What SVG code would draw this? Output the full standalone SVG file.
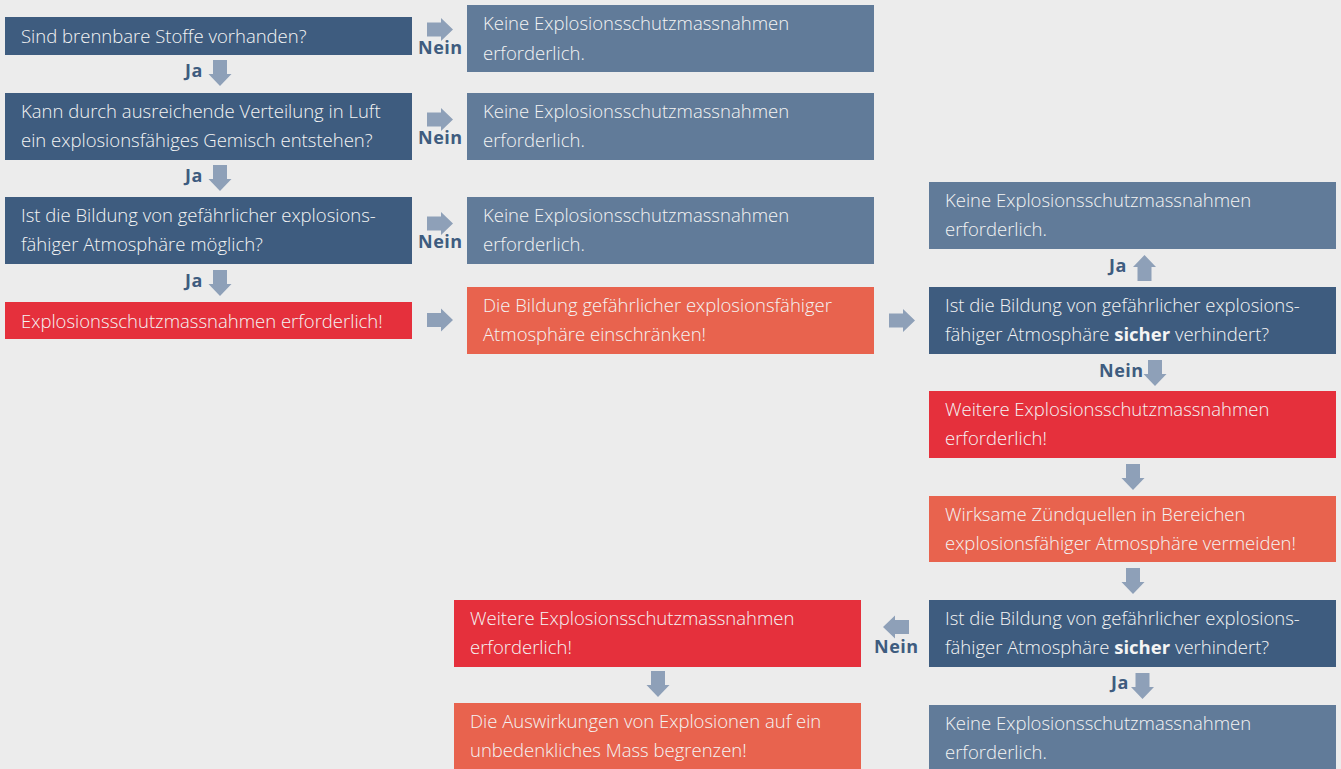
<svg xmlns="http://www.w3.org/2000/svg" width="1341" height="769" viewBox="0 0 1341 769">
<style>
.bg{fill:#ececec}
.q{fill:#3e5c7f}
.n{fill:#617b99}
.r{fill:#e5303c}
.o{fill:#e8634e}
.t{font-family:"Open Sans","Liberation Sans",sans-serif;font-size:18.5px;font-weight:300;fill:#f4f4f4}
.t tspan.b{font-weight:700}
.l{font-family:"Open Sans","Liberation Sans",sans-serif;font-size:18px;font-weight:700;letter-spacing:0.5px;fill:#3e5c7f}
.a{fill:#8ea0b8}
</style>
<defs>
<path id="ad" d="M-7,0 H7 V14 H11.5 L0,26 L-11.5,14 H-7 Z"/>
</defs>
<rect class="bg" x="0" y="0" width="1341" height="769"/>

<g id="q1"><rect class="q" x="5" y="17" width="407" height="38"/><text class="t" x="21" y="43">Sind brennbare Stoffe vorhanden?</text></g>
<g id="k1"><rect class="n" x="467" y="5" width="407" height="67"/><text class="t" x="483" y="30">Keine Explosionsschutzmassnahmen</text><text class="t" x="483" y="60">erforderlich.</text></g>
<g id="q2"><rect class="q" x="5" y="93" width="407" height="67"/><text class="t" x="21" y="118">Kann durch ausreichende Verteilung in Luft</text><text class="t" x="21" y="147">ein explosionsfähiges Gemisch entstehen?</text></g>
<g id="k2"><rect class="n" x="467" y="93" width="407" height="67"/><text class="t" x="483" y="118">Keine Explosionsschutzmassnahmen</text><text class="t" x="483" y="147">erforderlich.</text></g>
<g id="q3"><rect class="q" x="5" y="197" width="407" height="67"/><text class="t" x="21" y="222">Ist die Bildung von gefährlicher explosions-</text><text class="t" x="21" y="251">fähiger Atmosphäre möglich?</text></g>
<g id="k3"><rect class="n" x="467" y="197" width="407" height="67"/><text class="t" x="483" y="222">Keine Explosionsschutzmassnahmen</text><text class="t" x="483" y="251">erforderlich.</text></g>
<g id="r1"><rect class="r" x="5" y="302" width="407" height="37"/><text class="t" x="21" y="328">Explosionsschutzmassnahmen erforderlich!</text></g>
<g id="o1"><rect class="o" x="467" y="287" width="407" height="67"/><text class="t" x="483" y="312">Die Bildung gefährlicher explosionsfähiger</text><text class="t" x="483" y="341">Atmosphäre einschränken!</text></g>
<g id="k4"><rect class="n" x="929" y="182" width="407" height="67"/><text class="t" x="945" y="207">Keine Explosionsschutzmassnahmen</text><text class="t" x="945" y="236">erforderlich.</text></g>
<g id="q4"><rect class="q" x="929" y="287" width="407" height="67"/><text class="t" x="945" y="312">Ist die Bildung von gefährlicher explosions-</text><text class="t" x="945" y="341">fähiger Atmosphäre <tspan class="b">sicher</tspan> verhindert?</text></g>
<g id="r2"><rect class="r" x="929" y="391" width="407" height="67"/><text class="t" x="945" y="416">Weitere Explosionsschutzmassnahmen</text><text class="t" x="945" y="445">erforderlich!</text></g>
<g id="o2"><rect class="o" x="929" y="496" width="407" height="66"/><text class="t" x="945" y="521">Wirksame Zündquellen in Bereichen</text><text class="t" x="945" y="550">explosionsfähiger Atmosphäre vermeiden!</text></g>
<g id="q5"><rect class="q" x="929" y="600" width="407" height="67"/><text class="t" x="945" y="625">Ist die Bildung von gefährlicher explosions-</text><text class="t" x="945" y="654">fähiger Atmosphäre <tspan class="b">sicher</tspan> verhindert?</text></g>
<g id="k5"><rect class="n" x="929" y="705" width="407" height="70"/><text class="t" x="945" y="730">Keine Explosionsschutzmassnahmen</text><text class="t" x="945" y="759">erforderlich.</text></g>
<g id="r3"><rect class="r" x="454" y="600" width="407" height="67"/><text class="t" x="470" y="625">Weitere Explosionsschutzmassnahmen</text><text class="t" x="470" y="654">erforderlich!</text></g>
<g id="o3"><rect class="o" x="454" y="703" width="407" height="70"/><text class="t" x="470" y="728">Die Auswirkungen von Explosionen auf ein</text><text class="t" x="470" y="757">unbedenkliches Mass begrenzen!</text></g>

<g id="connectors">
<use href="#ad" class="a" transform="translate(427,29.5) rotate(-90)"/>
<text class="l" x="418" y="54">Nein</text>
<use href="#ad" class="a" transform="translate(220,60)"/>
<text class="l" x="185" y="77">Ja</text>
<use href="#ad" class="a" transform="translate(427,119.5) rotate(-90)"/>
<text class="l" x="418" y="144">Nein</text>
<use href="#ad" class="a" transform="translate(220,165)"/>
<text class="l" x="185" y="182">Ja</text>
<use href="#ad" class="a" transform="translate(427,223.5) rotate(-90)"/>
<text class="l" x="418" y="248">Nein</text>
<use href="#ad" class="a" transform="translate(220,270)"/>
<text class="l" x="185" y="287">Ja</text>
<use href="#ad" class="a" transform="translate(427,320) rotate(-90)"/>
<use href="#ad" class="a" transform="translate(889,320.5) rotate(-90)"/>
<use href="#ad" class="a" transform="translate(1144.5,281) rotate(180)"/>
<text class="l" x="1109" y="272">Ja</text>
<use href="#ad" class="a" transform="translate(1155,360)"/>
<text class="l" x="1099" y="377">Nein</text>
<use href="#ad" class="a" transform="translate(1133,464)"/>
<use href="#ad" class="a" transform="translate(1133,568)"/>
<use href="#ad" class="a" transform="translate(909,627) rotate(90)"/>
<text class="l" x="874" y="653">Nein</text>
<use href="#ad" class="a" transform="translate(1142.5,673)"/>
<text class="l" x="1111" y="689">Ja</text>
<use href="#ad" class="a" transform="translate(658,671)"/>
</g>
</svg>
